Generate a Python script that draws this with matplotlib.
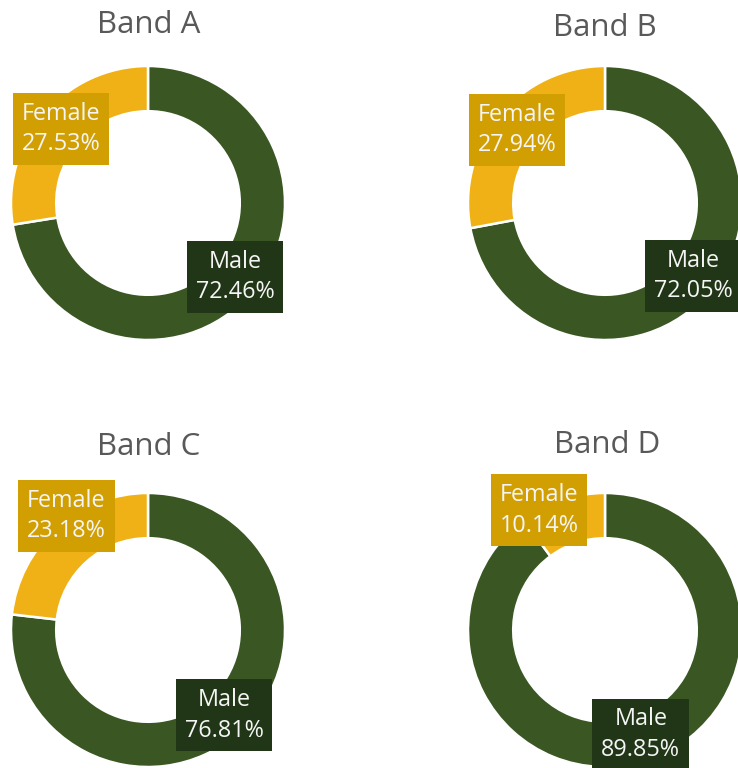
import matplotlib
matplotlib.use('Agg')
import matplotlib.pyplot as plt
import numpy as np

plt.rcParams['font.family'] = ['Open Sans', 'DejaVu Sans']

# data
bands = ['Band A', 'Band B', 'Band C', 'Band D']
categories = ['Male', 'Female']
male_pct = [72.46, 72.05, 76.81, 89.85]
female_pct = [27.53, 27.94, 23.18, 10.14]

# layout (pixels in a 738x768 canvas)
W, H = 738, 768
centers = [(148, 203), (605, 203), (148, 630), (605, 630)]
title_pos = [(149, 33), (605, 36), (149, 455), (607, 453)]
R = 137          # outer radius in px
HALF = 150       # half size of each axes in px
# manual nudges for labels Excel moved off the wedge middle (data units)
nudges = {(2, 'Female'): (-0.04, 0.21), (3, 'Female'): (-0.22, 0.08),
          (3, 'Male'): (0.0, 0.03)}

wedge_colors = {'Male': '#3A5723', 'Female': '#EFB115'}
label_colors = {'Male': '#213616', 'Female': '#D29F03'}

fig = plt.figure(figsize=(W / 100, H / 100), dpi=100)

for i, band in enumerate(bands):
    cx, cy = centers[i]
    ax = fig.add_axes([(cx - HALF) / W, 1 - (cy + HALF) / H, 2 * HALF / W, 2 * HALF / H])
    vals = [male_pct[i], female_pct[i]]
    wedges, _ = ax.pie(vals, startangle=90, counterclock=False,
                       colors=[wedge_colors[c] for c in categories],
                       wedgeprops=dict(width=0.33, edgecolor='white', linewidth=1.8))
    lim = HALF / R
    ax.set_xlim(-lim, lim)
    ax.set_ylim(-lim, lim)
    ax.set_aspect('equal')
    ax.axis('off')

    for w, cat, v in zip(wedges, categories, vals):
        theta = np.deg2rad((w.theta1 + w.theta2) / 2)
        r = 1 - 0.33 / 2
        dx, dy = nudges.get((i, cat), (0, 0))
        ax.text(r * np.cos(theta) + dx, r * np.sin(theta) + dy, f'{cat}\n{v:.2f}%',
                ha='center', va='center', color='#F5F5F5', fontsize=16.8,
                linespacing=1.35, clip_on=False,
                bbox=dict(boxstyle='square,pad=0.38', fc=label_colors[cat], ec='none'))

    tx, ty = title_pos[i]
    fig.text(tx / W, 1 - ty / H, band, ha='center', va='baseline',
             fontsize=22.5, color='#595959')

fig.savefig('out.png', dpi=100)
